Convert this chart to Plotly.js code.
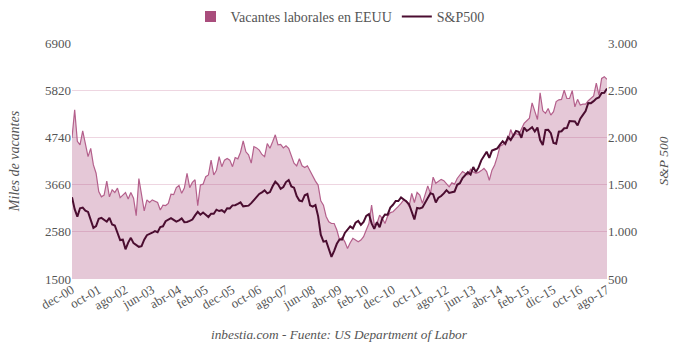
<!DOCTYPE html>
<html>
<head>
<meta charset="utf-8">
<script src="https://cdn.plot.ly/plotly-3.0.1.min.js"></script>
<style>html,body{margin:0;padding:0;background:#fff;}#chart{width:680px;height:352px;}</style>
</head>
<body>
<div id="chart"></div>
<script>
// Month categories: dec-00 ... ago-17 (201 months)
const monthNames = ['ene','feb','mar','abr','may','jun','jul','ago','sep','oct','nov','dic'];
const months = [];
for (let k = 0; k < 201; k++) {
  const m = (11 + k) % 12;
  const y = 2000 + Math.floor((11 + k) / 12);
  months.push(monthNames[m] + '-' + String(y % 100).padStart(2, '0'));
}

const tickLabels = ['dec-00','oct-01','ago-02','jun-03','abr-04','feb-05','dec-05','oct-06','ago-07','jun-08',
  'abr-09','feb-10','dec-10','oct-11','ago-12','jun-13','abr-14','feb-15','dic-15','oct-16','ago-17'];

// Job openings (thousands)
const vacantes = [
  4730,5370,4650,4570,4890,4560,4300,4490,4110,3920,
  3500,3380,3420,3740,3380,3540,3480,3580,3360,3420,
  3480,3330,3480,3350,2950,3800,3420,3060,3310,3250,
  3310,3270,3250,3080,3190,3180,3230,3440,3430,3590,
  3640,3460,3580,3920,3590,3710,3770,3180,3650,3670,
  3840,3880,4220,3880,3990,4300,4070,4220,4260,4220,
  4070,4280,4250,4400,4660,4410,4340,4150,4530,4500,
  4450,4350,4300,4600,4490,4640,4800,4570,4580,4500,
  4550,4490,4300,4150,4090,4250,4090,4050,4090,3970,
  3840,3740,3650,3290,3190,2930,2810,2770,2770,2620,
  2400,2450,2350,2200,2330,2430,2390,2350,2390,2470,
  2620,2770,3190,2740,2770,2960,2890,2770,2940,3020,
  3040,3090,3160,3230,3310,3290,3160,3460,3250,3480,
  3420,3230,3420,3630,3460,3830,3690,3730,3780,3750,
  3690,3610,3700,3670,3800,3880,3960,3920,3880,4010,
  3950,3920,3940,3980,4030,3960,3760,3990,4110,4300,
  4540,4570,4640,4680,4920,4760,4830,4800,4920,5060,
  5120,5180,5530,5310,5150,5760,5350,5290,5400,5250,
  5330,5560,5600,5610,5820,5630,5630,5810,5440,5610,
  5480,5500,5500,5580,5630,5690,5980,5710,6090,6130,
  6070
];

// S&P 500
const sp500 = [
  1366,1240,1160,1249,1256,1224,1211,1134,1041,1060,1139,1148,
  1130,1107,1147,1077,1067,990,912,916,815,886,936,880,
  856,841,848,917,964,975,990,1008,996,1051,1058,1112,
  1131,1145,1126,1107,1121,1141,1102,1104,1115,1130,1174,1212,
  1181,1204,1181,1157,1192,1191,1234,1220,1229,1207,1250,1248,
  1280,1281,1295,1311,1270,1270,1277,1304,1336,1378,1401,1418,
  1438,1407,1421,1482,1531,1503,1455,1474,1527,1549,1481,1468,
  1379,1331,1323,1386,1400,1280,1267,1283,1166,969,896,903,
  826,735,798,873,919,919,988,1021,1057,1036,1096,1115,
  1074,1105,1169,1187,1089,1031,1102,1049,1141,1183,1181,1258,
  1286,1327,1326,1364,1345,1321,1292,1219,1131,1253,1247,1258,
  1312,1366,1409,1398,1310,1362,1379,1407,1441,1412,1416,1426,
  1498,1515,1569,1598,1631,1606,1686,1633,1682,1757,1806,1848,
  1783,1860,1872,1884,1924,1960,1931,2003,1972,2018,2068,2059,
  1995,2105,2068,2086,2107,2063,2104,1972,1920,2079,2080,2044,
  1940,1932,2060,2065,2097,2099,2174,2171,2168,2126,2199,2239,
  2279,2364,2363,2384,2412,2423,2470,2472,2519
];

const leftTicks = [1500,2580,3660,4740,5820,6900];
const rightTicks = [500,1000,1500,2000,2500,3000];

const tickVals = tickLabels.map((_, j) => months[j * 10]);

const font = 'Liberation Serif, Times New Roman, serif';
const gray = '#555555';

const traces = [
  {
    x: months, y: vacantes, type: 'scatter', mode: 'lines',
    fill: 'tozeroy', fillcolor: 'rgba(168,72,122,0.30)',
    line: {color: '#b4608c', width: 1.2},
    name: 'Vacantes laborales en EEUU', showlegend: false, hoverinfo: 'skip'
  },
  {
    x: [null], y: [null], type: 'scatter', mode: 'markers',
    marker: {symbol: 'square', size: 11, color: '#a94d7c'},
    name: 'Vacantes laborales en EEUU', showlegend: true
  },
  {
    x: months, y: sp500, type: 'scatter', mode: 'lines', yaxis: 'y2',
    line: {color: '#4b0d30', width: 2},
    name: 'S&P500'
  }
];

const layout = {
  width: 680, height: 352,
  margin: {l: 72, r: 73, t: 43, b: 73, autoexpand: false},
  paper_bgcolor: '#ffffff', plot_bgcolor: '#ffffff',
  separators: ',.',
  font: {family: font, size: 13, color: gray},
  showlegend: true,
  legend: {orientation: 'h', x: 0.5, xref: 'container', xanchor: 'center',
           y: 0.952, yref: 'container', yanchor: 'middle',
           font: {family: font, size: 14, color: gray}, itemwidth: 30, traceorder: 'normal'},
  xaxis: {
    type: 'category', range: [0, 200],
    tickmode: 'array', tickvals: tickVals, ticktext: tickLabels,
    tickangle: -30, showgrid: false, zeroline: false, showline: false,
    ticks: '', tickfont: {family: font, size: 13, color: gray}, automargin: false
  },
  yaxis: {
    range: [1500, 6900], tickmode: 'array', tickvals: leftTicks,
    showgrid: true, gridcolor: '#eed6e1', gridwidth: 1, zeroline: false, showline: false,
    ticks: '', tickfont: {family: font, size: 13, color: gray}, automargin: false,
    title: {text: 'Miles de vacantes', font: {family: font, size: 14, color: gray}, standoff: 22}
  },
  yaxis2: {
    overlaying: 'y', side: 'right', range: [500, 3000],
    tickmode: 'array', tickvals: rightTicks, separatethousands: true, tickformat: ',d',
    showgrid: false, zeroline: false, showline: false, ticks: '', automargin: false,
    tickfont: {family: font, size: 13, color: gray},
    title: {text: 'S&P 500', font: {family: font, size: 13.5, color: gray}, standoff: 22}
  },
  annotations: [{
    text: '<i>inbestia.com - Fuente: US Department of Labor</i>',
    xref: 'paper', yref: 'paper', x: 0.5, y: -0.237, xanchor: 'center', yanchor: 'middle',
    showarrow: false, font: {family: font, size: 13.3, color: gray}
  }]
};

Plotly.newPlot('chart', traces, layout, {displayModeBar: false, staticPlot: true}).then(() => {
  document.querySelectorAll('.g-ytitle text, .g-y2title text').forEach(t => t.style.fontStyle = 'italic');
});
</script>
</body>
</html>
